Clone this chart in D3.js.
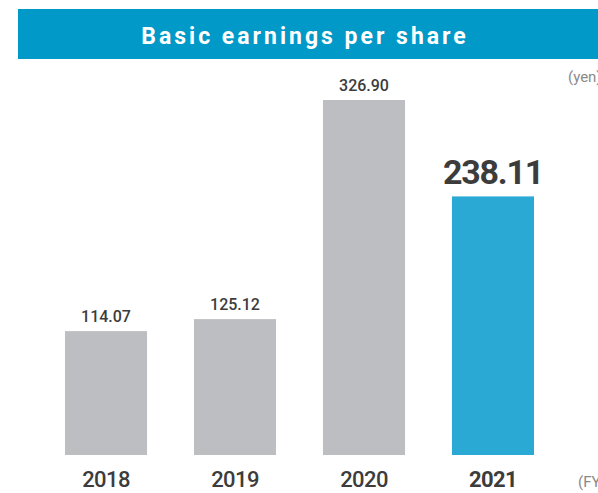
<!DOCTYPE html>
<html>
<head>
<meta charset="utf-8">
<script src="https://cdn.jsdelivr.net/npm/d3@7"></script>
<style>
  html, body { margin: 0; padding: 0; background: #fff; }
  svg { display: block; font-family: Roboto, "DejaVu Sans", sans-serif; }
</style>
</head>
<body>
<div id="chart"></div>
<script>
// data
const years = ["2018", "2019", "2020", "2021"];
const eps = [114.07, 125.12, 326.90, 238.11];
const highlightYear = "2021";
const title = "Basic earnings per share";
const unitLabel = "(yen)";
const axisLabel = "(FY)";

const size = {width: 598, height: 493};
const margin = {top: 100, right: 64, bottom: 38, left: 65};
const width = size.width - margin.left - margin.right;
const height = size.height - margin.top - margin.bottom;

const svg = d3.select("#chart").append("svg")
    .attr("width", size.width)
    .attr("height", size.height);

// header banner
svg.append("rect")
    .attr("x", 18).attr("y", 9)
    .attr("width", size.width - 18).attr("height", 50)
    .attr("fill", "#0099c8");
svg.append("text")
    .attr("x", 305).attr("y", 44)
    .attr("text-anchor", "middle")
    .attr("fill", "#fff")
    .attr("font-size", 23)
    .attr("font-weight", 700)
    .attr("letter-spacing", 3)
    .text(title);

svg.append("text")
    .attr("x", 568).attr("y", 82)
    .attr("fill", "#8a8a8a")
    .attr("font-size", 15)
    .text(unitLabel);

const g = svg.append("g")
    .attr("transform", "translate(" + margin.left + "," + margin.top + ")");

const xScale = d3.scaleBand()
    .domain(years)
    .range([0, width])
    .paddingInner(0.364)
    .paddingOuter(0);

const yScale = d3.scaleLinear()
    .domain([0, d3.max(eps)])
    .range([height, 0]);

const data = years.map((y, i) => ({year: y, value: eps[i]}));

const barG = g.selectAll(".barG")
    .data(data)
    .join("g")
    .attr("class", "barG");

barG.append("rect")
    .attr("x", d => xScale(d.year))
    .attr("y", d => yScale(d.value))
    .attr("width", xScale.bandwidth())
    .attr("height", d => yScale(0) - yScale(d.value))
    .attr("fill", d => d.year === highlightYear ? "#29a9d3" : "#bdbec2");

barG.append("text")
    .attr("x", d => xScale(d.year) + xScale.bandwidth() / 2)
    .attr("y", d => yScale(d.value) - (d.year === highlightYear ? 12 : 9))
    .attr("text-anchor", "middle")
    .attr("fill", "#3c3c3c")
    .attr("font-weight", d => d.year === highlightYear ? 700 : 500)
    .attr("font-size", d => d.year === highlightYear ? 34 : 16)
    .attr("letter-spacing", d => d.year === highlightYear ? -1.2 : 0)
    .text(d => d.value.toFixed(2));

// x axis labels
const xAxisG = g.append("g")
    .attr("transform", "translate(0," + height + ")")
    .call(d3.axisBottom(xScale).tickSize(0).tickPadding(0));
xAxisG.select(".domain").remove();
xAxisG.selectAll("text")
    .attr("y", 32)
    .attr("dy", null)
    .attr("fill", "#3c3c3c")
    .attr("font-family", "Roboto, sans-serif")
    .attr("font-size", 22)
    .attr("letter-spacing", -0.6)
    .attr("font-weight", d => d === highlightYear ? 700 : 500);

svg.append("text")
    .attr("x", 578).attr("y", 487)
    .attr("fill", "#8a8a8a")
    .attr("font-size", 15)
    .text(axisLabel);
</script>
</body>
</html>
